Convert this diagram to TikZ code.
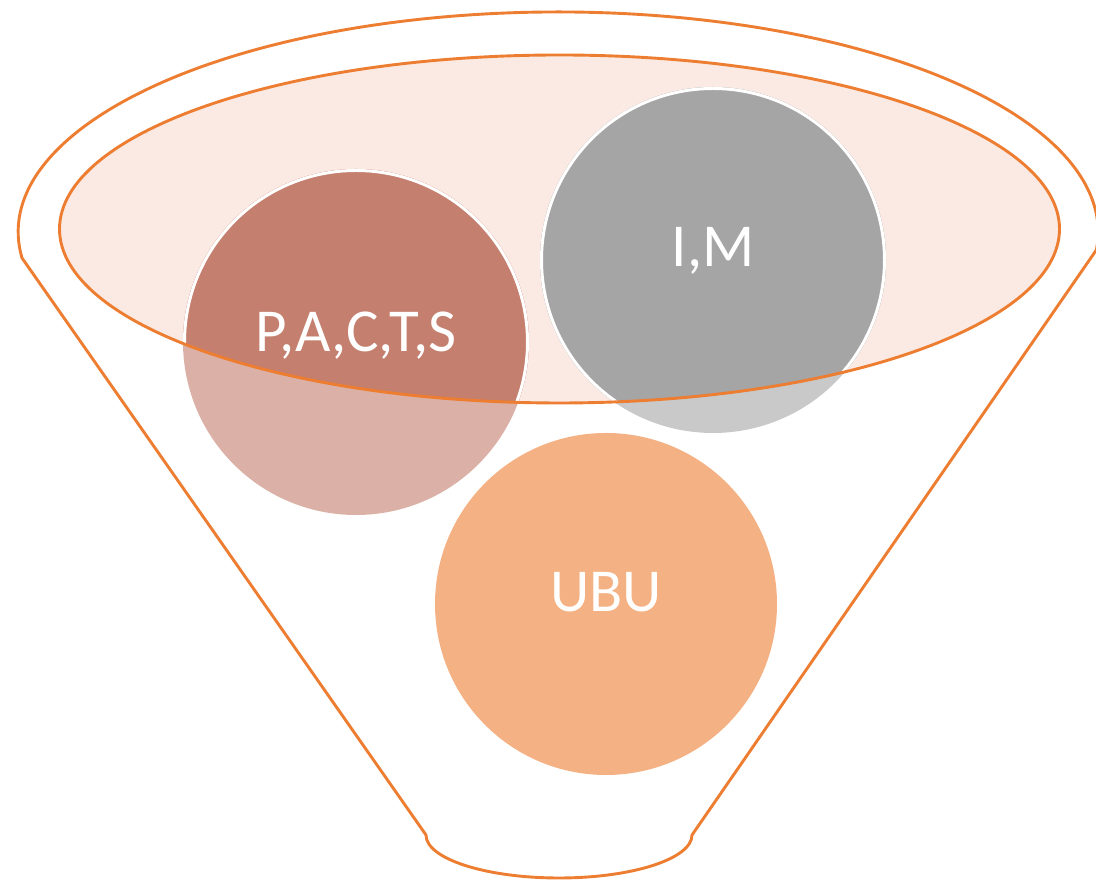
\documentclass[tikz,border=0pt]{standalone}
\usepackage{fontspec}
\setmainfont{Carlito}
\definecolor{funnelorange}{HTML}{ED7D31}
\definecolor{bowlfill}{HTML}{FBEAE3}
\definecolor{pdark}{HTML}{C47F6E}
\definecolor{plight}{HTML}{DBB1A7}
\definecolor{mdark}{HTML}{A5A5A5}
\definecolor{mlight}{HTML}{C9C9C9}
\definecolor{ubucol}{HTML}{F4B183}
\tikzset{
  outline/.style={draw=funnelorange, line width=2.9pt, line join=round},
  ballborder/.style={draw=white, line width=3pt},
  balltext/.style={text=white, font=\fontsize{61}{72}\selectfont, anchor=base, inner sep=0pt}
}
\begin{document}
\begin{tikzpicture}[x=1pt,y=1pt]
\useasboundingbox (0,0) rectangle (1096,882);
% outer funnel outline
\draw[outline] (22,624) arc[start angle=186.8, end angle=-4.7, x radius=540, y radius=220]
  coordinate (rimright)
  -- (692,47) arc[start angle=0, end angle=-180, x radius=133, y radius=43]
  -- cycle;
% inner bowl fill
\fill[bowlfill] (559.5,653) ellipse[x radius=500, y radius=174];
% balls, light parts
\fill[plight] (356,540) circle[radius=173];
\fill[mlight] (713,622) circle[radius=173];
\fill[ubucol] (606,278) circle[radius=171];
% darker parts inside the bowl
\begin{scope}
  \clip (559.5,653) ellipse[x radius=500, y radius=174];
  \fill[pdark] (356,540) circle[radius=173];
  \fill[mdark] (713,622) circle[radius=173];
  \draw[ballborder] (356,540) circle[radius=171.5];
  \draw[ballborder] (713,622) circle[radius=171.5];
\end{scope}
% bowl outline
\draw[outline] (559.5,653) ellipse[x radius=500, y radius=174];
% labels
\node[balltext] (pacts) at (356,530) {P,A,C,T,S};
\node[balltext] (im) at (713,615) {I,M};
\node[balltext] (ubu) at (606,270) {UBU};
\end{tikzpicture}
\end{document}
